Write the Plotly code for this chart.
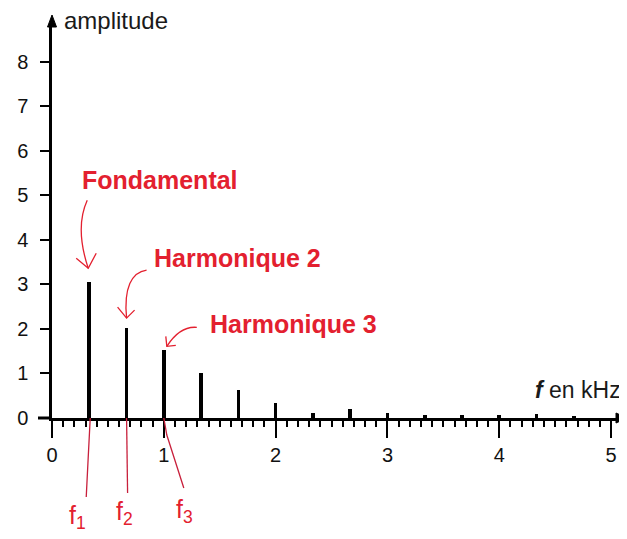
import plotly.graph_objects as go

# ---- data ----
freq_khz = [0.333, 0.667, 1.0, 1.333, 1.667, 2.0, 2.333, 2.667, 3.0, 3.333, 3.667, 4.0, 4.333, 4.667]
amplitude = [3.05, 2.02, 1.52, 1.0, 0.63, 0.34, 0.12, 0.2, 0.12, 0.07, 0.07, 0.07, 0.09, 0.05]
x_ticks = [0, 1, 2, 3, 4, 5]
y_ticks = [0, 1, 2, 3, 4, 5, 6, 7, 8]
peak_names = ["Fondamental", "Harmonique 2", "Harmonique 3"]
freq_names = ["f<sub>1</sub>", "f<sub>2</sub>", "f<sub>3</sub>"]

RED = "#e3202f"
LINE_RED = "#c8203c"
FONT = "Liberation Sans, Arial, sans-serif"

fig = go.Figure()
fig.add_trace(go.Bar(x=freq_khz, y=amplitude, width=0.033,
                     marker=dict(color="black", line=dict(width=0)),
                     hoverinfo="skip"))

shapes = []
annotations = []

# axis extensions and arrowheads
shapes.append(dict(type="path", xref="paper", yref="paper", xsizemode="pixel", ysizemode="pixel",
                   xanchor=0, yanchor=0, path="M -14,0 L 0,0", line=dict(color="black", width=3)))
shapes.append(dict(type="path", xref="paper", yref="paper", xsizemode="pixel", ysizemode="pixel",
                   xanchor=0, yanchor=1, path="M -4.5,-2 L 0,10 L 4.5,-2 Z",
                   fillcolor="black", line=dict(color="black", width=1)))
shapes.append(dict(type="path", xref="paper", yref="paper", xsizemode="pixel", ysizemode="pixel",
                   xanchor=1, yanchor=0, path="M -2,5 L 9,0 L -2,-5 Z",
                   fillcolor="black", line=dict(color="black", width=1)))

# curved red arrows pointing to the first three peaks (pixel offsets from each peak top)
arrow_paths = [
    ("M -2,82 C -12,60 -8,35 -1,14", "M -13,24 L -1,14 L 7,29"),
    ("M 20,58 C 5,56 -3,40 0,10", "M -9,21 L 0,10 L 8,18"),
    ("M 33,23 C 22,24 12,18 3,4", "M 2,14 L 3,4 L 12,5"),
]
label_shift = [(-9, 102), (25, 70), (44, 26)]
for i in range(3):
    body, head = arrow_paths[i]
    for p in (body, head):
        shapes.append(dict(type="path", xref="x", yref="y", xsizemode="pixel", ysizemode="pixel",
                           xanchor=freq_khz[i], yanchor=amplitude[i], path=p,
                           line=dict(color=RED, width=1.3)))
    annotations.append(dict(x=freq_khz[i], y=amplitude[i], xref="x", yref="y",
                            text="<b>" + peak_names[i] + "</b>", showarrow=False,
                            xanchor="left", yanchor="middle",
                            xshift=label_shift[i][0], yshift=label_shift[i][1],
                            font=dict(family=FONT, size=25, color=RED)))

# red lines from the frequency markers down to f1, f2, f3
freq_line_paths = ["M 1,0 L -1,-39 L -3,-79", "M 0,0 L 1,-75", "M 0,0 L 3,-17 L 20,-70"]
freq_label_shift = [(-12, -99), (-2, -95), (21, -93)]
for i in range(3):
    shapes.append(dict(type="path", xref="x", yref="paper", xsizemode="pixel", ysizemode="pixel",
                       xanchor=freq_khz[i], yanchor=0, path=freq_line_paths[i],
                       line=dict(color=LINE_RED, width=1.3)))
    annotations.append(dict(x=freq_khz[i], y=0, xref="x", yref="paper",
                            text=freq_names[i], showarrow=False,
                            xanchor="center", yanchor="middle",
                            xshift=freq_label_shift[i][0], yshift=freq_label_shift[i][1],
                            font=dict(family=FONT, size=25, color=RED)))

# axis titles
annotations.append(dict(x=0, y=1, xref="paper", yref="paper", text="amplitude", showarrow=False,
                        xanchor="left", yanchor="middle", xshift=10, yshift=5,
                        font=dict(family=FONT, size=24, color="#1a1a1a")))
annotations.append(dict(x=1, y=0, xref="paper", yref="paper",
                        text="<b><i>f</i></b> en kHz", showarrow=False,
                        xanchor="right", yanchor="middle", xshift=5, yshift=28,
                        font=dict(family=FONT, size=23, color="#1a1a1a")))

# the page has an 8px body margin, so the figure is sized to the remaining window
fig.update_layout(
    width=619, height=531,
    margin=dict(l=37, r=9, t=17, b=121),
    paper_bgcolor="white", plot_bgcolor="white",
    showlegend=False, bargap=0,
    xaxis=dict(range=[0, 5.062], tickmode="linear", tick0=0, dtick=1,
               ticks="outside", ticklen=17, tickwidth=2, tickcolor="black",
               showline=True, linewidth=3, linecolor="black",
               showgrid=False, zeroline=False, ticklabelstandoff=0,
               tickfont=dict(family=FONT, size=20, color="#111"),
               minor=dict(tick0=0, dtick=0.1, ticks="outside", ticklen=6, tickwidth=1.5,
                          tickcolor="black", showgrid=False)),
    yaxis=dict(range=[0, 8.83], tickmode="array", tickvals=y_ticks,
               ticktext=[str(v) for v in y_ticks],
               ticks="outside", ticklen=9, tickwidth=2, tickcolor="black",
               showline=True, linewidth=2.5, linecolor="black",
               showgrid=False, zeroline=False, ticklabelstandoff=8,
               tickfont=dict(family=FONT, size=20, color="#111")),
    shapes=shapes,
    annotations=annotations,
)

fig.write_html("out.html")
